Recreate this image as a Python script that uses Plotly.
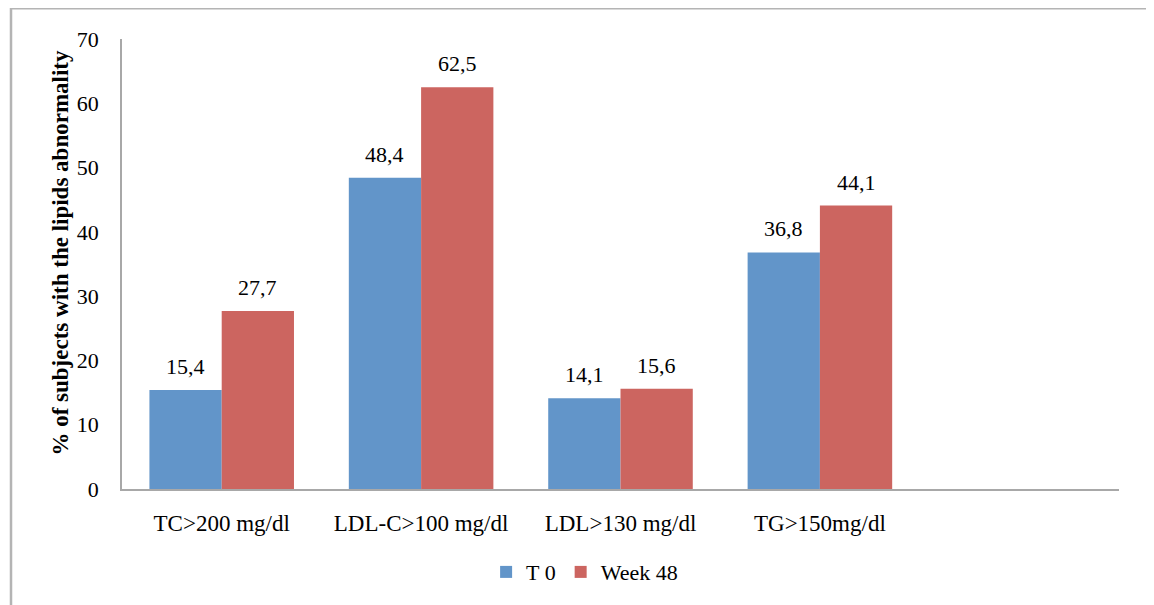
import plotly.graph_objects as go

categories = ["TC>200 mg/dl", "LDL-C>100 mg/dl", "LDL>130 mg/dl", "TG>150mg/dl"]
t0_values = [15.4, 48.4, 14.1, 36.8]
week48_values = [27.7, 62.5, 15.6, 44.1]
t0_labels = ["15,4", "48,4", "14,1", "36,8"]
week48_labels = ["27,7", "62,5", "15,6", "44,1"]
series_names = ["T 0", "Week 48"]
y_ticks = [0, 10, 20, 30, 40, 50, 60, 70]
y_title = "% of subjects with the lipids abnormality"

BLUE = "#6295C9"
RED = "#CC6560"
FONT = "Liberation Serif"
BARGAP = 0.275

xpos = list(range(len(categories)))

fig = go.Figure()
fig.add_trace(go.Bar(x=xpos, y=t0_values, name=series_names[0], marker_color=BLUE,
                     marker_line_width=0))
fig.add_trace(go.Bar(x=xpos, y=week48_values, name=series_names[1], marker_color=RED,
                     marker_line_width=0))

bw = (1 - BARGAP) / 2
for i, x in enumerate(xpos):
    fig.add_annotation(x=x - bw / 2, y=t0_values[i], text=t0_labels[i], showarrow=False,
                       yanchor="bottom", yshift=9, font=dict(family=FONT, size=22, color="#000"))
    fig.add_annotation(x=x + bw / 2, y=week48_values[i], text=week48_labels[i], showarrow=False,
                       yanchor="bottom", yshift=9, font=dict(family=FONT, size=22, color="#000"))

# y-axis title placed as rotated text (plot area spans x 122..1119, y 39..492 in the window)
fig.add_annotation(xref="paper", yref="paper", x=(61 - 122) / 997, y=(492 - 254) / 453,
                   text="<b>" + y_title + "</b>", textangle=-90, showarrow=False,
                   xanchor="center", yanchor="middle",
                   font=dict(family=FONT, size=23, color="#000"))

# outer frame
fig.add_shape(type="rect", xref="paper", yref="paper",
              x0=(11 - 122) / 997, x1=(1150 - 122) / 997,
              y0=-0.5, y1=(492 - 8) / 453,
              line=dict(color="#b4b4b4", width=2.5),
              fillcolor="rgba(0,0,0,0)", layer="below")

fig.update_layout(
    width=1146, height=597,
    margin=dict(l=114, r=35, t=31, b=113),
    paper_bgcolor="white", plot_bgcolor="white",
    barmode="group", bargap=BARGAP, bargroupgap=0,
    font=dict(family=FONT, size=21, color="#000"),
    showlegend=True,
    legend=dict(orientation="h", x=0.464, xanchor="center", y=-0.138, yanchor="top",
                font=dict(family=FONT, size=22), itemwidth=30, traceorder="normal"),
    xaxis=dict(range=[-0.5, 4.5], tickvals=xpos, ticktext=categories, showgrid=False,
               zeroline=False, showline=True, linecolor="#a8a8a8", linewidth=1.5,
               ticks="", ticklabelstandoff=13, tickfont=dict(family=FONT, size=23)),
    yaxis=dict(range=[0, 70], tickvals=y_ticks, showgrid=False, zeroline=False,
               showline=True, linecolor="#a8a8a8", linewidth=1.5, ticks="",
               ticklabelstandoff=17, tickfont=dict(family=FONT, size=22)),
)

fig.write_html("out.html")
